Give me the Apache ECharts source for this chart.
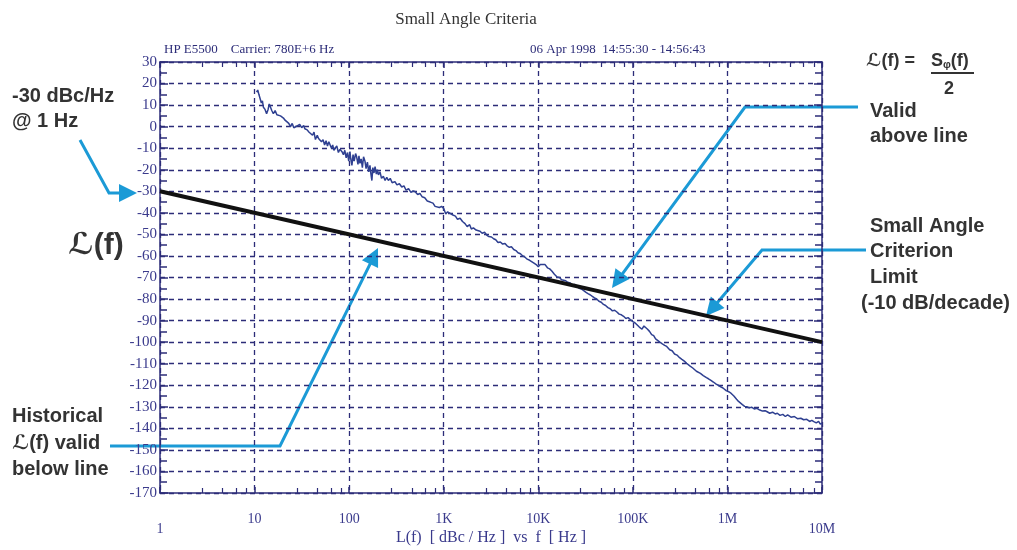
<!DOCTYPE html>
<html>
<head>
<meta charset="utf-8">
<script src="https://cdn.jsdelivr.net/npm/echarts@6/dist/echarts.min.js"></script>
<style>
  html, body { margin: 0; background: #fff; }
  #chart { width: 1017px; height: 550px; }
</style>
</head>
<body>
<div id="chart"></div>
<script>
// x axis: offset frequency (Hz), log scale
const freqMin = 1
const freqMax = 1e7
const freqLabels = ['1', '10', '100', '1K', '10K', '100K', '1M', '10M']

// y axis: L(f) in dBc/Hz
const dbMin = -170
const dbMax = 30
const dbStep = 10

// small angle criterion limit, -10 dB/decade from -30 dBc/Hz @ 1 Hz
const limitFreq = [1, 1e7]
const limitDb = [-30, -100]

const trace = [
  [10.5,16],[10.8,17],[11.1,15],[11.4,14.5],[11.8,11],[12.1,12],[12.4,9],[12.9,8],[13.4,6],[13.9,8],
  [14.3,10.5],[14.6,10],[15.2,7.5],[15.8,6],[16.5,7.5],[17.2,5.5],[17.9,6],[18.8,5],[19.5,5.5],[20.2,4],
  [21,3],[22,2.5],[23,1.5],[24,0],[25,1.5],[26,-0.5],[27,-1],[28.5,0.5],[30,1],[31.5,-0.5],
  [33,0.5],[34,-1],[36,-1.5],[37.5,-2.5],[39,-3],[41,-4],[42.5,-2.5],[44,-6],[46,-4],[47.5,-5.5],
  [49,-4.7],[51,-7],[53,-6],[55,-8.5],[57,-6.5],[59,-9],[61,-7],[63,-7.7],[65,-10],[67,-8.5],
  [69,-11],[71,-10],[74,-9],[77,-12],[80,-10.5],[84,-11.6],[87,-13],[90,-11],[93,-14.5],[96,-12],
  [99,-16],[102,-11.6],[104,-15],[107,-18],[110,-13],[113,-16],[117,-12.5],[120,-14],[124,-17.5],[127,-13.5],
  [130,-17],[134,-15],[138,-19],[142,-14],[147,-16],[151,-19.5],[156,-16.5],[161,-21],[166,-18],[170,-22],
  [174,-25],[178,-19],[183,-21.5],[188,-18.6],[194,-22],[199,-20],[204,-22.4],[212,-21],[220,-24],[230,-23],
  [240,-25],[250,-23.5],[260,-25],[272,-24],[285,-26],[305,-25.5],[320,-27],[340,-26.5],[360,-28],[380,-27.5],
  [400,-29.5],[425,-28.8],[450,-30.5],[475,-29.8],[500,-30.2],[530,-31.5],[560,-31],[590,-32.5],[630,-33],[670,-34.5],
  [720,-35],[770,-35.5],[810,-37],[850,-36.4],[900,-37.5],[950,-37],[1000,-38],[1050,-40.5],[1100,-39.5],[1170,-40.2],
  [1250,-41],[1330,-41.5],[1400,-43],[1490,-42.5],[1580,-44],[1680,-45],[1770,-46.4],[1880,-45.5],[1960,-47.5],[2060,-47],
  [2200,-48],[2300,-47.5],[2420,-48.5],[2550,-49.5],[2700,-49],[2850,-50.3],[3000,-51],[3200,-51.2],[3370,-52],[3550,-52.5],
  [3750,-53.8],[3970,-53.5],[4200,-54.5],[4450,-54.2],[4670,-55.3],[4950,-56],[5200,-55.7],[5500,-57],[5800,-57.5],[6100,-58.5],
  [6480,-59],[6850,-60],[7200,-60.5],[7630,-61.5],[8100,-62],[8500,-62.5],[9000,-63.3],[9500,-64],[10000,-65],[10500,-64],
  [11000,-63.5],[11800,-64],[12500,-65.5],[13200,-66],[13900,-67],[14800,-68.5],[15800,-69.8],[16800,-70],[17600,-71],[18400,-70.8],
  [19500,-71.5],[20500,-72.2],[21700,-72.5],[23000,-73.5],[24200,-73.2],[25500,-74],[27000,-75],[28500,-75.3],[30000,-76],[31700,-76.8],
  [33500,-77.5],[35300,-78],[37300,-78.8],[39300,-79.5],[41500,-80],[43800,-81],[46300,-81.5],[48900,-82.5],[51500,-83],[54500,-84],
  [57600,-84.5],[60800,-85.5],[64200,-85.2],[67800,-86],[71600,-87],[75600,-87.3],[79800,-88],[84300,-89],[89000,-88.6],[93900,-89.5],
  [100000,-90.5],[105000,-91],[110000,-91.5],[117000,-93],[125000,-94],[131000,-92.5],[137000,-92],[143000,-94],[150000,-95],[158000,-96.5],
  [166000,-97],[174000,-98.5],[181000,-99],[193000,-100],[205000,-100.8],[217000,-101.5],[228000,-102],[245000,-103.5],[260000,-104],[276000,-105.5],
  [293000,-106],[312000,-107.2],[330000,-108],[350000,-108.8],[370000,-109.8],[400000,-111],[430000,-112],[470000,-113.5],[518000,-114.5],[555000,-115.5],
  [600000,-116.5],[630000,-117],[663000,-117.6],[710000,-118.5],[760000,-119.5],[800000,-120],[849000,-120.7],[910000,-121.5],[970000,-122.5],[1030000,-123],
  [1090000,-123.7],[1170000,-125],[1250000,-126.5],[1310000,-127.5],[1370000,-128.4],[1440000,-129],[1520000,-129.8],[1600000,-130],[1700000,-130.5],[1800000,-130.2],
  [1920000,-131],[2050000,-130.7],[2200000,-131.5],[2350000,-132],[2500000,-131.8],[2630000,-132.3],[2800000,-133],[3000000,-132.5],[3200000,-133.3],[3370000,-133],
  [3600000,-134],[3850000,-133.5],[4100000,-134.5],[4330000,-133.8],[4700000,-134.8],[5100000,-134.5],[5500000,-135.5],[5970000,-135.3],[6400000,-136],[6900000,-135.8],
  [7400000,-136.8],[7800000,-136.3],[8200000,-136.9],[8700000,-137.5],[9200000,-136.8],[9600000,-138],[10000000,-137.7]
]

const navy = '#2c2c78'
const labelNavy = '#3a3a8c'
const annoBlue = '#1b9ad6'
const annoText = '#333333'
const serif = '"Liberation Serif", "DejaVu Serif", serif'
const sans = '"Liberation Sans", "DejaVu Sans", sans-serif'

const chart = echarts.init(document.getElementById('chart'))

// blue annotation arrow: polyline ending in a filled head at the last point
function arrow(pts) {
  const n = pts.length
  const [tx, ty] = pts[n - 1]
  const [px, py] = pts[n - 2]
  const len = Math.hypot(tx - px, ty - py)
  const ux = (tx - px) / len, uy = (ty - py) / len
  const hl = 18, hw = 9
  const bx = tx - ux * hl, by = ty - uy * hl
  const linePts = pts.slice(0, n - 1).concat([[bx + ux * 2, by + uy * 2]])
  return [
    { type: 'polyline', shape: { points: linePts }, style: { stroke: annoBlue, lineWidth: 3, fill: null } },
    { type: 'polygon', shape: { points: [[tx, ty], [bx - uy * hw, by + ux * hw], [bx + uy * hw, by - ux * hw]] },
      style: { fill: annoBlue } }
  ]
}

function label(text, x, y, size, extra) {
  return Object.assign({
    type: 'text', x: x, y: y,
    style: { text: text, font: 'bold ' + size + 'px ' + sans, fill: annoText, textVerticalAlign: 'middle' }
  }, extra || {})
}

const xLabelFormatter = v => {
  const i = Math.round(Math.log10(v))
  const t = freqLabels[i]
  return (i === 0 || i === freqLabels.length - 1) ? '{low|' + t + '}' : '{n|' + t + '}'
}

const logAxisBase = {
  type: 'log',
  logBase: 10,
  min: freqMin,
  max: freqMax,
  axisLine: { show: true, onZero: false, lineStyle: { color: navy, width: 1.5 } },
  axisTick: { show: true, inside: true, length: 6, lineStyle: { color: navy, width: 1.5 } },
  minorTick: { show: true, splitNumber: 5, length: 5, lineStyle: { color: navy, width: 1.2 } }
}

const valueAxisBase = {
  type: 'value',
  min: dbMin,
  max: dbMax,
  interval: dbStep,
  axisLine: { show: true, onZero: false, lineStyle: { color: navy, width: 1.5 } },
  axisTick: { show: true, inside: true, length: 8, lineStyle: { color: navy, width: 1.5 } },
  minorTick: { show: true, splitNumber: 2, length: 7, lineStyle: { color: navy, width: 1.5 } }
}

chart.setOption({
  animation: false,
  backgroundColor: '#fff',
  grid: { left: 160, right: 195, top: 62, bottom: 57, containLabel: false, outerBoundsMode: 'none' },
  xAxis: [
    Object.assign({}, logAxisBase, {
      position: 'bottom',
      name: 'L(f)  [ dBc / Hz ]  vs  f  [ Hz ]',
      nameLocation: 'middle',
      nameGap: 37,
      nameMoveOverlap: false,
      nameTextStyle: { color: labelNavy, fontFamily: serif, fontSize: 16 },
      axisLabel: {
        show: true, margin: 19, formatter: xLabelFormatter,
        rich: {
          n: { color: labelNavy, fontFamily: serif, fontSize: 14 },
          low: { color: labelNavy, fontFamily: serif, fontSize: 14, padding: [10, 0, 0, 0] }
        }
      },
      splitLine: { show: true, lineStyle: { color: navy, width: 1.3, type: [5, 4] } }
    }),
    Object.assign({}, logAxisBase, {
      position: 'top',
      axisLabel: { show: false },
      splitLine: { show: false }
    })
  ],
  yAxis: [
    Object.assign({}, valueAxisBase, {
      position: 'left',
      axisLabel: { show: true, margin: 3, color: labelNavy, fontFamily: serif, fontSize: 15 },
      splitLine: { show: true, lineStyle: { color: navy, width: 1.3, type: [5, 4] } }
    }),
    Object.assign({}, valueAxisBase, {
      position: 'right',
      axisLabel: { show: false },
      splitLine: { show: false }
    })
  ],
  series: [
    {
      name: 'L(f)',
      type: 'line',
      xAxisIndex: 0,
      yAxisIndex: 0,
      data: trace,
      symbol: 'none',
      lineStyle: { color: '#2f4091', width: 1.5 },
      z: 3
    },
    {
      name: 'Small Angle Criterion Limit',
      type: 'line',
      xAxisIndex: 0,
      yAxisIndex: 0,
      data: limitFreq.map((f, i) => [f, limitDb[i]]),
      symbol: 'none',
      lineStyle: { color: '#111', width: 4 },
      z: 4
    }
  ],
  graphic: [
    { type: 'text', x: 466, y: 20,
      style: { text: 'Small Angle Criteria', font: '17px ' + serif, fill: '#333', textAlign: 'center', textVerticalAlign: 'middle' } },
    { type: 'text', x: 164, y: 50,
      style: { text: 'HP E5500    Carrier: 780E+6 Hz', font: '13px ' + serif, fill: navy, textVerticalAlign: 'middle' } },
    { type: 'text', x: 530, y: 50,
      style: { text: '06 Apr 1998  14:55:30 - 14:56:43', font: '13px ' + serif, fill: navy, textVerticalAlign: 'middle' } },

    label('-30 dBc/Hz', 12, 96, 20),
    label('@ 1 Hz', 12, 121, 20),
    label('ℒ(f)', 68, 246, 30),
    label('Historical', 12, 416, 20),
    label('ℒ(f) valid', 12, 443, 20),
    label('below line', 12, 469, 20),

    label('ℒ(f) =', 866, 61, 18),
    { type: 'text', x: 931, y: 61,
      style: { text: '{s|S}{sub|φ}{s|(f)}', textVerticalAlign: 'middle',
        rich: {
          s: { font: 'bold 18px ' + sans, fill: annoText },
          sub: { font: 'bold 11px ' + sans, fill: annoText, padding: [8, 0, 0, 0] }
        } } },
    { type: 'line', shape: { x1: 931, y1: 73, x2: 974, y2: 73 }, style: { stroke: annoText, lineWidth: 2 } },
    label('2', 944, 89, 18),
    label('Valid', 870, 111, 20),
    label('above line', 870, 136, 20),
    label('Small Angle', 870, 226, 20),
    label('Criterion', 870, 251, 20),
    label('Limit', 870, 277, 20),
    label('(-10 dB/decade)', 861, 303, 20),

    ...arrow([[80, 140], [109, 193], [137, 193]]),
    ...arrow([[110, 446], [280, 446], [378, 248]]),
    ...arrow([[858, 107], [745, 107], [612, 288]]),
    ...arrow([[866, 250], [762, 250], [706, 316]])
  ]
})
</script>
</body>
</html>
